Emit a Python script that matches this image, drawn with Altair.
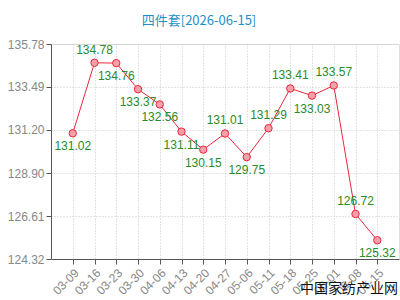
import altair as alt
import pandas as pd

dates = ["03-09", "03-16", "03-23", "03-30", "04-06", "04-13", "04-20", "04-27",
         "05-06", "05-11", "05-18", "05-25", "06-01", "06-08", "06-15"]
values = [131.02, 134.78, 134.76, 133.37, 132.56, 131.11, 130.15, 131.01,
          129.75, 131.29, 133.41, 133.03, 133.57, 126.72, 125.32]
label_pos = ["below", "above", "below", "below", "below", "below", "below", "above",
             "below", "above", "above", "below", "above", "above", "below"]
y_ticks = [124.32, 126.61, 128.90, 131.20, 133.49, 135.78]
title_text = "四件套[2026-06-15]"
watermark = "中国家纺产业网"

df = pd.DataFrame({"date": dates, "value": values, "pos": label_pos,
                   "label": [f"{v:.2f}" for v in values]})

W, H = 348, 215

x = alt.X("date:N", sort=dates,
          scale=alt.Scale(type="point", padding=1),
          axis=alt.Axis(title=None, labelAngle=-45, labelColor="#888888",
                        labelFontSize=12, labelFont="Liberation Sans",
                        tickColor="#555555", tickSize=5, domainColor="#555555",
                        grid=True, gridColor="#c8c8c8", gridDash=[1, 2],
                        labelPadding=3))
y = alt.Y("value:Q",
          scale=alt.Scale(domain=[124.32, 135.78], nice=False, zero=False),
          axis=alt.Axis(title=None, values=y_ticks, format=".2f",
                        labelColor="#888888", labelFontSize=12,
                        labelFont="Liberation Sans",
                        tickColor="#555555", tickSize=5, domainColor="#555555",
                        grid=True, gridColor="#c8c8c8", gridDash=[1, 2],
                        labelPadding=2))

base = alt.Chart(df)

line = base.mark_line(color="#e8283a", strokeWidth=1).encode(x=x, y=y)
pts = base.mark_point(shape="circle", filled=True, fill="#f5a0aa",
                      stroke="#e8283a", strokeWidth=1, size=55, opacity=1).encode(
    x=alt.X("date:N", sort=dates), y="value:Q")

lab_font = dict(font="Liberation Sans", fontSize=12, color="#2a8a2a")
above = base.transform_filter(alt.datum.pos == "above").mark_text(
    dy=-13, **lab_font).encode(x=alt.X("date:N", sort=dates), y="value:Q", text="label:N")
below = base.transform_filter(alt.datum.pos == "below").mark_text(
    dy=13, **lab_font).encode(x=alt.X("date:N", sort=dates), y="value:Q", text="label:N")

title = alt.Chart(pd.DataFrame({"t": [title_text]})).mark_text(
    font="Noto Sans CJK SC", fontSize=13, color="#1e8fc8", align="center",
    baseline="middle").encode(x=alt.value(148), y=alt.value(-23), text="t:N")

wm = alt.Chart(pd.DataFrame({"t": [watermark]})).mark_text(
    font="Noto Sans CJK SC", fontSize=14, color="#111111", align="right",
    baseline="middle").encode(x=alt.value(347), y=alt.value(30 + H), text="t:N")

chart = alt.layer(line, pts, above, below, title, wm).properties(
    width=W, height=H,
    autosize=alt.AutoSizeParams(type="none"),
    padding={"left": 51, "top": 44, "right": 1, "bottom": 41},
).configure_view(stroke="#aaaaaa", strokeWidth=1).configure(background="white")

chart.save("out.html", embed_options={"renderer": "svg", "actions": False})
